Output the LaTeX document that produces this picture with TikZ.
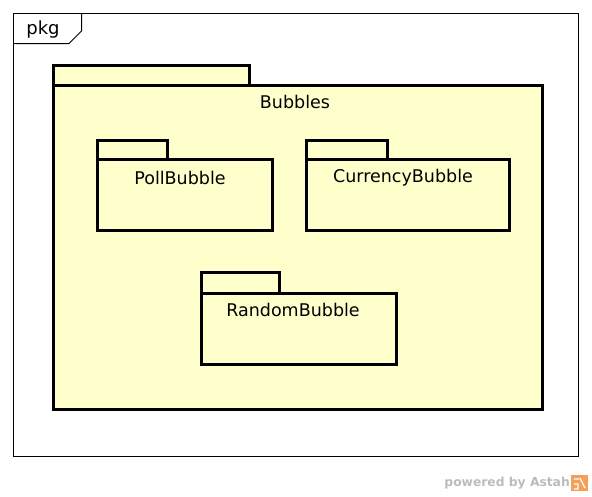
\documentclass[tikz,border=0pt]{standalone}
\usepackage{fontspec}
\setmainfont{DejaVu Sans}
\definecolor{pkgfill}{HTML}{FFFFCC}
\definecolor{astahgray}{HTML}{BBBBBB}
\definecolor{astahorange}{HTML}{F5A05A}
\begin{document}
\begin{tikzpicture}[x=1pt,y=-1pt,
  pkgline/.style={draw=black,line width=3pt,fill=pkgfill},
  pkglabel/.style={font=\fontsize{17.5}{20}\selectfont,anchor=center,inner sep=0pt}]
\useasboundingbox (0,0) rectangle (592,496);
% frame
\draw[line width=1pt] (13,13) rectangle (578,456);
\draw[line width=1pt] (13,43.5) -- (69,43.5) -- (81.5,31) -- (81.5,13);
\node[pkglabel,font=\fontsize{18}{20}\selectfont] (pkg) at (43,30) {pkg};
% Bubbles
\draw[pkgline] (53,65) rectangle (249,85);
\draw[pkgline] (53,85) rectangle (542,409);
\node[pkglabel] (bubbles) at (295,102) {Bubbles};
% PollBubble
\draw[pkgline] (97,140) rectangle (167,159);
\draw[pkgline] (97,159) rectangle (272,230);
\node[pkglabel] (poll) at (180,178) {PollBubble};
% CurrencyBubble
\draw[pkgline] (306,140) rectangle (387,159);
\draw[pkgline] (306,159) rectangle (509,230);
\node[pkglabel] (currency) at (403,178) {CurrencyBubble};
% RandomBubble
\draw[pkgline] (201,272) rectangle (279,293);
\draw[pkgline] (201,293) rectangle (396,364);
\node[pkglabel] (random) at (293,310) {RandomBubble};
% watermark
\node[anchor=east,inner sep=0pt,text=astahgray,font=\bfseries\fontsize{12.3}{14}\selectfont] (powered) at (570,483) {powered by Astah};
\fill[astahorange] (571,475) rectangle (588,491);
\draw[white,line width=1.2pt] (574,479) -- (579,479) (580,478) -- (585,488) (574,484) -- (578,484) -- (578,489) -- (574,489);
\end{tikzpicture}
\end{document}
